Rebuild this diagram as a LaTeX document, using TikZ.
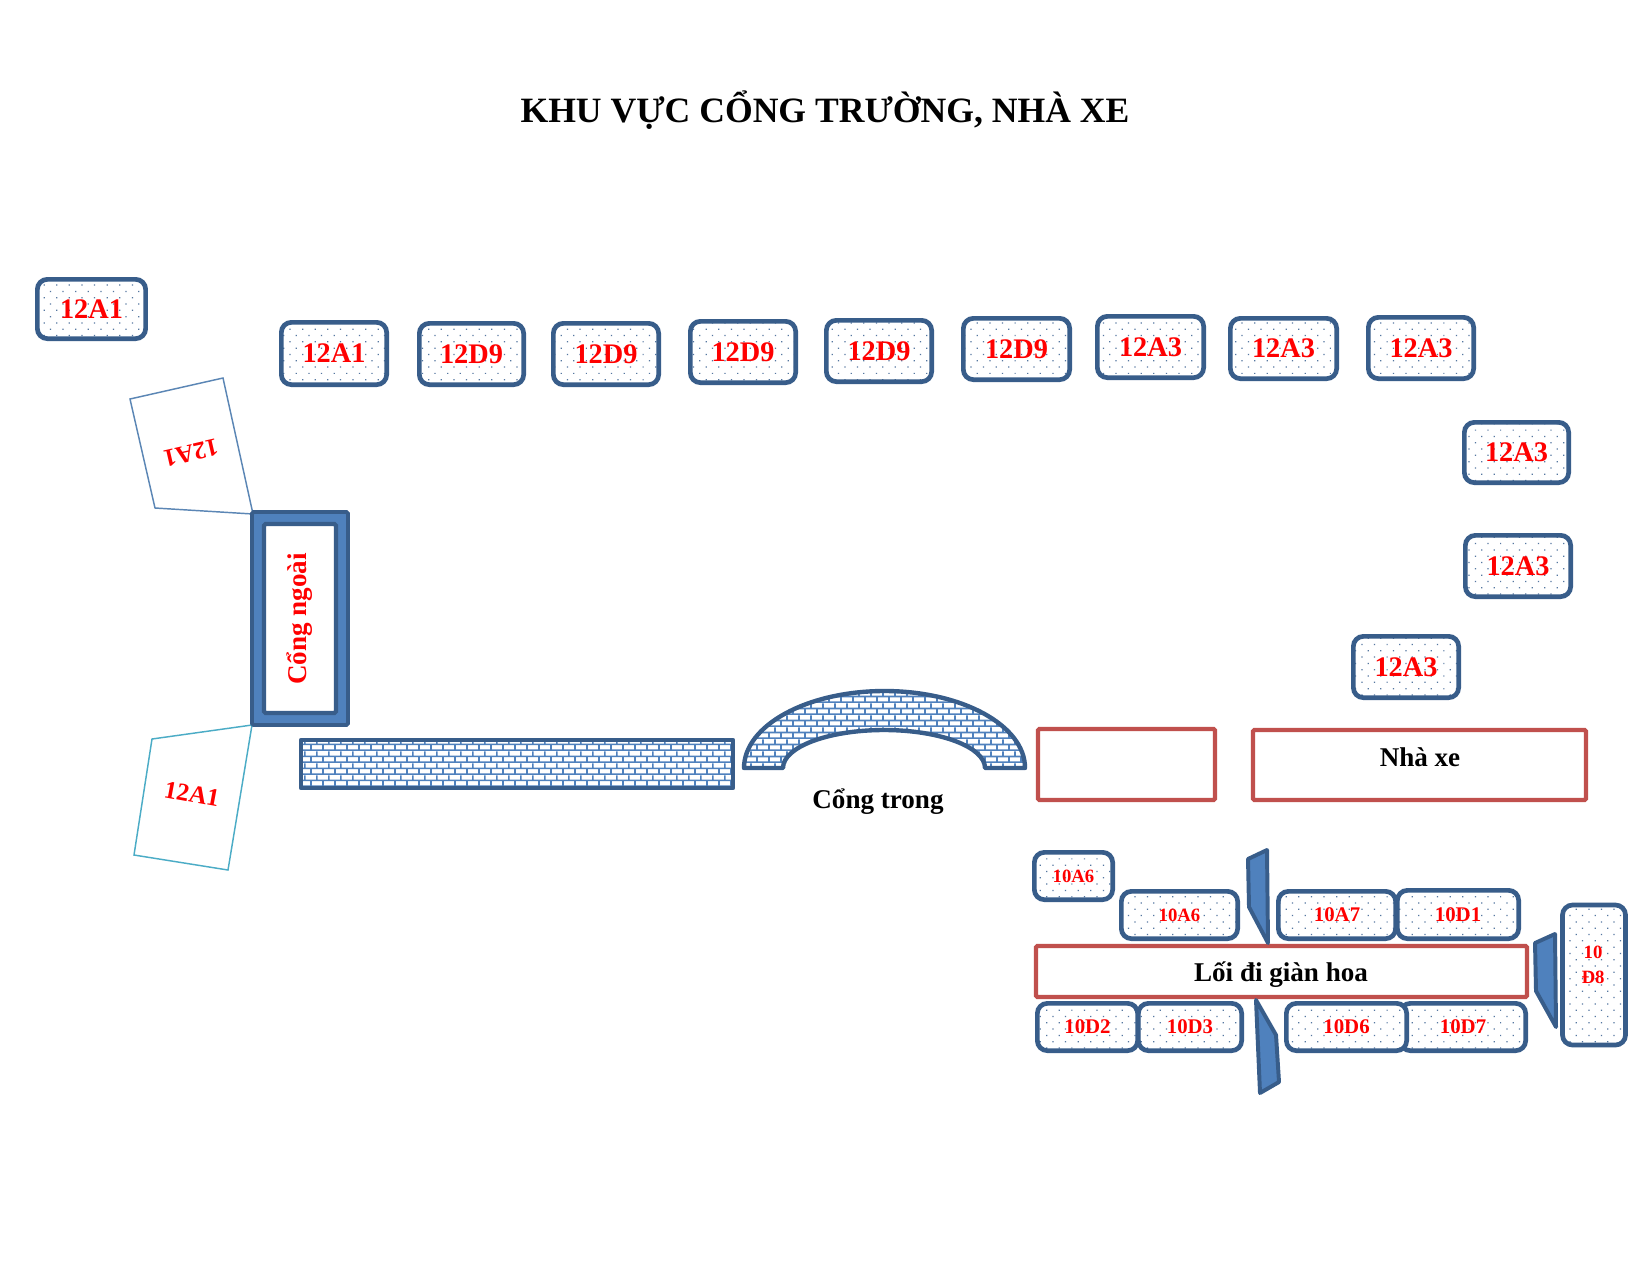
\documentclass[tikz,border=0pt]{standalone}
\usepackage{fontspec}
\setmainfont{Liberation Serif}
\usetikzlibrary{patterns,patterns.meta}
\definecolor{edgeblue}{HTML}{385D8A}
\definecolor{dotblue}{HTML}{5577A0}
\definecolor{fillblue}{HTML}{4F81BD}
\definecolor{wallred}{HTML}{C0504D}
\definecolor{flapblue}{HTML}{5B86B5}
\definecolor{flapteal}{HTML}{4BACC6}
\pgfdeclarepatternformonly{brickwall}{\pgfpointorigin}{\pgfqpoint{5.95pt}{5.86pt}}{\pgfqpoint{5.95pt}{5.86pt}}{
  \pgfsetlinewidth{0.85pt}
  \pgfpathmoveto{\pgfqpoint{0pt}{0.4pt}}\pgflineto{\pgfqpoint{5.95pt}{0.4pt}}
  \pgfpathmoveto{\pgfqpoint{0pt}{3.33pt}}\pgflineto{\pgfqpoint{5.95pt}{3.33pt}}
  \pgfpathmoveto{\pgfqpoint{1pt}{0.4pt}}\pgflineto{\pgfqpoint{1pt}{3.33pt}}
  \pgfpathmoveto{\pgfqpoint{3.97pt}{3.33pt}}\pgflineto{\pgfqpoint{3.97pt}{5.86pt}}
  \pgfusepath{stroke}
}
\tikzset{
  clsbox/.style={draw=edgeblue,line width=2.25pt,rounded corners=4.8pt,inner sep=0pt,
    preaction={fill=white},pattern={Dots[distance=4.28pt,angle=45,radius=0.42pt]},pattern color=dotblue,
    text=red,font=\bfseries\fontsize{13.6}{15}\selectfont},
  smallcls/.style={clsbox,font=\bfseries\fontsize{10}{12}\selectfont},
  tinycls/.style={clsbox,font=\bfseries\fontsize{9}{12}\selectfont},
  flap/.style={line width=0.7pt,line join=miter},
  flaptext/.style={text=red,inner sep=0pt,font=\bfseries\fontsize{12}{14}\selectfont},
  redrect/.style={draw=wallred,line width=2pt,fill=white,rounded corners=0.6pt,inner sep=0pt,
    font=\bfseries\fontsize{13}{15}\selectfont},
  gateouter/.style={draw=edgeblue,line width=1.9pt,fill=fillblue,rounded corners=0.8pt},
  gateinner/.style={draw=edgeblue,line width=2pt,fill=white,rounded corners=0.8pt},
  brickshape/.style={draw=edgeblue,line width=2.1pt,preaction={fill=white},pattern=brickwall,pattern color=fillblue,line join=round},
  vine/.style={draw=edgeblue,line width=1.9pt,fill=fillblue,line join=round},
  blacktext/.style={text=black,inner sep=0pt,font=\bfseries\fontsize{13}{15}\selectfont}
}
\newcommand{\cls}[7]{\node[#1,minimum width={(#5-#3-4.7)*0.48pt},minimum height={(#6-#4-4.7)*0.48pt}] (#2) at ({(#3+#5)/2},{(#4+#6)/2}) {#7};}
\begin{document}
\begin{tikzpicture}[x=0.48pt,y=-0.48pt]
\useasboundingbox (0,0) rectangle (1650,1275);
\fill[white] (0,0) rectangle (1650,1275);
\node[text=black,inner sep=0pt,font=\bfseries\fontsize{17.1}{20}\selectfont] (title) at (825,110) {KHU VỰC CỔNG TRƯỜNG, NHÀ XE};
% top row
\cls{clsbox}{a1}{35}{277}{148}{341}{12A1}
\cls{clsbox}{a2}{279}{320}{389}{387}{12A1}
\cls{clsbox}{d1}{417}{321}{526}{387}{12D9}
\cls{clsbox}{d2}{551}{321}{661}{387}{12D9}
\cls{clsbox}{d3}{688}{319}{798}{385}{12D9}
\cls{clsbox}{d4}{824}{318}{934}{384}{12D9}
\cls{clsbox}{d5}{961}{316}{1072}{382}{12D9}
\cls{clsbox}{e1}{1095}{314}{1206}{380}{12A3}
\cls{clsbox}{e2}{1228}{316}{1339}{381}{12A3}
\cls{clsbox}{e3}{1366}{315}{1476}{381}{12A3}
\cls{clsbox}{e4}{1462}{420}{1571}{485}{12A3}
\cls{clsbox}{e5}{1463}{533}{1573}{599}{12A3}
\cls{clsbox}{e6}{1351}{634}{1461}{700}{12A3}
% flaps
\draw[flap,draw=flapblue] (130,399) -- (223,378) -- (253,514) -- (155,508) -- cycle;
\node[flaptext,rotate=193] (flaptop) at (191,453) {12A1};
\draw[flap,draw=flapteal] (252,725) -- (152,739) -- (134,855) -- (228,870) -- cycle;
\node[flaptext,rotate=-10.6] (flapbot) at (192,794) {12A1};
% outer gate
\draw[gateouter] (252,512) rectangle (348,725);
\draw[gateinner] (264,524) rectangle (336,713);
\node[text=red,inner sep=0pt,rotate=90,font=\bfseries\fontsize{13}{15}\selectfont] (gate) at (300,619) {Cổng ngoài};
% wall and arch
\draw[brickshape] (301,740) rectangle (733,788);
\draw[brickshape] (744,768) arc[start angle=180,end angle=360,x radius=140.5,y radius=77] -- (985,768) arc[start angle=0,end angle=-180,x radius=101,y radius=38] -- cycle;
\node[blacktext] (inner) at (878,802) {Cổng trong};
% red rectangles
\draw[redrect] (1038,729) rectangle (1215,800);
\node[redrect,minimum width={333*0.48pt},minimum height={70*0.48pt}] (shed) at (1419.5,765) {};
\node[blacktext] (shedtext) at (1420,757) {Nhà xe};
% upper 10 row
\cls{tinycls}{f1}{1032}{850}{1115}{902}{10A6}
\cls{tinycls}{f2}{1119}{889}{1240}{941}{10A6}
\cls{smallcls}{f3}{1276}{889}{1398}{941}{10A7}
\cls{smallcls}{f4}{1395}{888}{1521}{941}{10D1}
% path
\node[redrect,minimum width={491*0.48pt},minimum height={51*0.48pt}] (walk) at (1281.5,971.5) {};
\node[blacktext] (walktext) at (1281,974.5) {Lối đi giàn hoa};
% lower 10 row
\cls{smallcls}{g2}{1136}{1001}{1244}{1053}{10D3}
\cls{smallcls}{g1}{1035}{1001}{1140}{1053}{10D2}
\cls{smallcls}{g4}{1398}{1001}{1528}{1053}{10D7}
\cls{smallcls}{g3}{1284}{1001}{1409}{1053}{10D6}
\node[clsbox,font=\bfseries\fontsize{8.7}{12}\selectfont,align=center,minimum width={63*0.48pt},minimum height={140*0.48pt}] (h1) at (1594,975) {};
\node[text=red,inner sep=0pt,font=\bfseries\fontsize{9}{12}\selectfont,align=center] (h1text) at (1593,964.5) {10\\[0pt]Đ8};
% vines
\draw[vine] (1248,859) -- (1267,850) -- (1268,943) -- (1249,907) -- cycle;
\draw[vine] (1256,1000) -- (1276,1035) -- (1279,1082) -- (1260,1093) -- cycle;
\draw[vine] (1535,943) -- (1555,934) -- (1556,1027) -- (1536,991) -- cycle;
\end{tikzpicture}
\end{document}
